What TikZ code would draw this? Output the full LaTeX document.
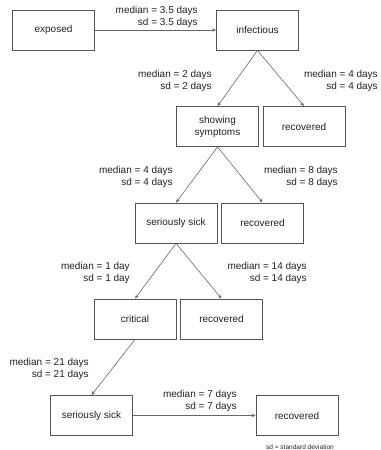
\documentclass[tikz,border=0pt]{standalone}
\usepackage{fontspec}
\setmainfont{Liberation Sans}
\usetikzlibrary{arrows.meta, positioning}
\definecolor{boxgray}{rgb}{0.33,0.33,0.33}
\definecolor{linegray}{rgb}{0.40,0.40,0.40}
\definecolor{textgray}{rgb}{0.13,0.13,0.13}

\begin{document}
\begin{tikzpicture}[
    x=0.75pt, y=-0.75pt,
    state/.style={rectangle, draw=boxgray, line width=0.6pt, minimum width=61.5pt, minimum height=30pt, font=\fontsize{7.5}{9}\selectfont, text=textgray, align=center, inner sep=1pt},
    rate/.style={anchor=east, align=right, font=\fontsize{7.5}{9}\selectfont, text=textgray, inner sep=0pt},
    arrow/.style={-{Stealth[length=3pt, width=2.5pt]}, draw=linegray, line width=0.45pt},
]
\useasboundingbox (0,0) rectangle (381,450);

% === Boxes ===
\node[state] (exposed) at (53.5, 30) {exposed};
\node[state] (infectious) at (257.5, 30) {infectious};
\node[state] (symptoms) at (217.5, 126.5) {showing\\symptoms};
\node[state] (rec1) at (304, 126.5) {recovered};
\node[state] (sick1) at (176, 223) {seriously sick};
\node[state] (rec2) at (262.5, 223) {recovered};
\node[state] (critical) at (135, 319) {critical};
\node[state] (rec3) at (221.5, 319) {recovered};
\node[state] (sick2) at (91.5, 415.5) {seriously sick};
\node[state] (rec4) at (297, 415.5) {recovered};

% === Durations ===
\node[rate] (d1) at (198, 17) {median = 3.5 days\\sd = 3.5 days};
\node[rate] (d2) at (212, 81) {median = 2 days\\sd = 2 days};
\node[rate] (d3) at (378, 81) {median = 4 days\\sd = 4 days};
\node[rate] (d4) at (173, 177) {median = 4 days\\sd = 4 days};
\node[rate] (d5) at (338, 177) {median = 8 days\\sd = 8 days};
\node[rate] (d6) at (130, 272.5) {median = 1 day\\sd = 1 day};
\node[rate] (d7) at (307, 272.5) {median = 14 days\\sd = 14 days};
\node[rate] (d8) at (89, 369) {median = 21 days\\sd = 21 days};
\node[rate] (d9) at (237, 400.5) {median = 7 days\\sd = 7 days};
\node[font=\fontsize{4.9}{6}\selectfont, text=textgray, inner sep=0pt] (note) at (300, 447) {sd = standard deviation};

% === Arrows ===
\draw[arrow] (exposed) -- (infectious);
\draw[arrow] (infectious.south) -- (symptoms.north);
\draw[arrow] (infectious.south) -- (rec1.north);
\draw[arrow] (symptoms.south) -- (sick1.north);
\draw[arrow] (symptoms.south) -- (rec2.north);
\draw[arrow] (sick1.south) -- (critical.north);
\draw[arrow] (sick1.south) -- (rec3.north);
\draw[arrow] (critical.south) -- (sick2.north);
\draw[arrow] (sick2) -- (rec4);

\end{tikzpicture}
\end{document}
